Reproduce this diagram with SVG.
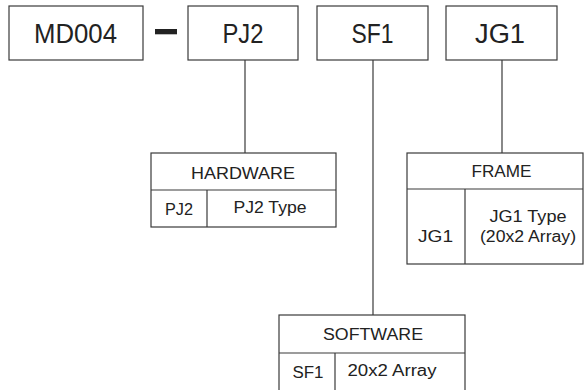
<svg xmlns="http://www.w3.org/2000/svg" width="584" height="390" viewBox="0 0 584 390">
<style>
.box{fill:#fff;stroke:#3a3a3a;stroke-width:1.2}
.ln{stroke:#3a3a3a;stroke-width:1.2;fill:none}
.big{font-family:"Liberation Sans",Arial,sans-serif;font-size:27px;fill:#222;text-anchor:middle}
.sm{font-family:"Liberation Sans",Arial,sans-serif;font-size:16px;fill:#222;text-anchor:middle}
</style>
<rect width="584" height="390" fill="#fff"/>
<g id="connectors">
<line class="ln" x1="245" y1="60" x2="245" y2="153"/>
<line class="ln" x1="373" y1="60" x2="373" y2="315"/>
<line class="ln" x1="502" y1="60" x2="502" y2="153"/>
</g>
<g id="md004">
<rect class="box" x="9" y="6" width="134" height="54"/>
<text class="big" x="75.5" y="42.5" textLength="83" lengthAdjust="spacingAndGlyphs">MD004</text>
</g>
<g id="dash">
<rect x="155" y="29" width="22" height="5.3" fill="#222"/>
</g>
<g id="pj2">
<rect class="box" x="188" y="6" width="110" height="54"/>
<text class="big" x="243" y="42.5" textLength="41" lengthAdjust="spacingAndGlyphs">PJ2</text>
</g>
<g id="sf1">
<rect class="box" x="317" y="6" width="111" height="54"/>
<text class="big" x="372.5" y="42.5" textLength="42" lengthAdjust="spacingAndGlyphs">SF1</text>
</g>
<g id="jg1">
<rect class="box" x="446" y="6" width="111" height="54"/>
<text class="big" x="500" y="42.5" textLength="50" lengthAdjust="spacingAndGlyphs">JG1</text>
</g>
<g id="hardware">
<rect class="box" x="151" y="153" width="185" height="74"/>
<line class="ln" x1="151" y1="190" x2="336" y2="190"/>
<line class="ln" x1="207" y1="190" x2="207" y2="227"/>
<text class="sm" x="243" y="178.5" textLength="104" lengthAdjust="spacingAndGlyphs">HARDWARE</text>
<text class="sm" x="179" y="215" textLength="28" lengthAdjust="spacingAndGlyphs">PJ2</text>
<text class="sm" x="270" y="212.5" textLength="73" lengthAdjust="spacingAndGlyphs">PJ2 Type</text>
</g>
<g id="frame">
<rect class="box" x="407" y="153" width="176" height="111"/>
<line class="ln" x1="407" y1="189" x2="583" y2="189"/>
<line class="ln" x1="465" y1="189" x2="465" y2="264"/>
<text class="sm" x="501.5" y="176.5" textLength="60" lengthAdjust="spacingAndGlyphs">FRAME</text>
<text class="sm" x="435.5" y="241.5" textLength="35" lengthAdjust="spacingAndGlyphs">JG1</text>
<text class="sm" x="528" y="222" textLength="77" lengthAdjust="spacingAndGlyphs">JG1 Type</text>
<text class="sm" x="528" y="241.5" textLength="96" lengthAdjust="spacingAndGlyphs">(20x2 Array)</text>
</g>
<g id="software">
<rect class="box" x="279" y="315" width="186" height="80"/>
<line class="ln" x1="279" y1="353" x2="465" y2="353"/>
<line class="ln" x1="335" y1="353" x2="335" y2="395"/>
<text class="sm" x="373" y="339.5" textLength="100" lengthAdjust="spacingAndGlyphs">SOFTWARE</text>
<text class="sm" x="308" y="377.5" textLength="31" lengthAdjust="spacingAndGlyphs">SF1</text>
<text class="sm" x="392" y="376" textLength="89" lengthAdjust="spacingAndGlyphs">20x2 Array</text>
</g>
</svg>
